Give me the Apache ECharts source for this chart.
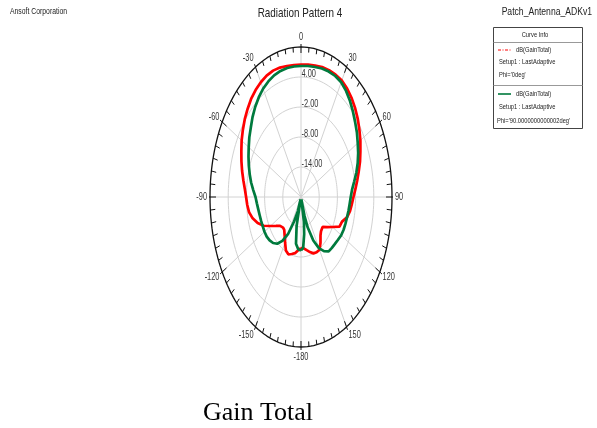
<!DOCTYPE html>
<html>
<head>
<meta charset="utf-8">
<script src="https://cdn.jsdelivr.net/npm/echarts@6/dist/echarts.min.js"></script>
<style>
html,body{margin:0;padding:0;background:#fff;}
#chart{width:597px;height:428px;}
</style>
</head>
<body>
<div id="chart"></div>
<script>
// ---------- data ----------
const title = 'Radiation Pattern 4';
const radialMin = -20, radialMax = 10;
const ringValues = [-14, -8, -2, 4];
const ringLabels = ['-14.00', '-8.00', '-2.00', '4.00'];
const angleTickValues = [0, 30, 60, 90, 120, 150, 180, -150, -120, -90, -60, -30];
const angleTickLabels = ['0', '30', '60', '90', '120', '150', '-180', '-150', '-120', '-90', '-60', '-30'];

// Phi = 0deg (red)
const phi0Angles = [-180,-175,-170,-165,-160,-155,-150,-145,-140,-136,-130,-125,-120,-115,-110,-105,-100,-95,-90,-85,-80,-75,-70,-65,-60,-55,-50,-45,-40,-35,-30,-25,-20,-15,-10,-5,0,5,10,15,20,25,30,35,40,45,50,55,60,65,70,75,80,85,90,95,100,105,110,115,120,125,130,133,136,140,145,150,155,160,165,170,175,180];
const phi0Gain   = [-9.8,-9.3,-8.6,-8.2,-7.8,-8.2,-9.5,-10.6,-11.4,-11.5,-11.0,-9.9,-8.4,-6.4,-4.8,-3.5,-2.6,-2.2,-1.9,-1.4,-0.7,0.1,0.9,1.7,2.6,3.4,4.2,4.9,5.6,6.1,6.5,6.8,6.9,6.8,6.6,6.5,6.5,6.6,6.7,6.9,7.0,7.0,6.9,6.5,5.9,5.2,4.4,3.5,2.6,1.6,0.7,-0.3,-1.2,-2.0,-2.7,-3.2,-3.6,-4.3,-5.6,-6.0,-8.0,-9.5,-10.7,-10.9,-10.5,-10.0,-8.8,-7.8,-7.8,-8.0,-8.6,-9.2,-9.7,-9.8];

// Phi = 90deg (green)
const phi90Angles = [-180,-175,-170,-166,-163,-160,-155,-150,-145,-140,-135,-130,-125,-120,-115,-110,-105,-100,-95,-90,-85,-80,-75,-70,-65,-60,-55,-50,-45,-40,-35,-30,-25,-20,-15,-10,-5,0,5,10,15,20,25,30,35,40,45,50,55,60,65,70,75,80,85,90,95,100,105,110,115,120,125,130,135,140,145,150,155,160,163,166,169,172,176,180];
const phi90Gain   = [-9.3,-9.5,-10.5,-14.0,-19.5,-17.0,-14.6,-11.4,-9.3,-7.8,-7.0,-6.5,-6.2,-6.1,-6.1,-6.0,-5.9,-5.7,-5.4,-5.0,-4.2,-3.3,-2.5,-1.7,-0.9,-0.1,0.8,1.6,2.6,3.5,4.3,5.0,5.5,5.9,6.1,6.2,6.2,6.2,6.3,6.4,6.6,6.7,6.7,6.5,5.9,5.1,4.2,3.3,2.5,1.6,0.8,-0.1,-1.1,-2.2,-3.1,-3.6,-3.9,-4.1,-4.3,-4.4,-4.5,-4.7,-5.1,-5.4,-5.6,-5.8,-6.8,-8.2,-10.4,-13.5,-16.0,-19.5,-15.0,-12.5,-9.8,-9.3];

// ---------- helpers ----------
const RX = 91, RY = 150; // pixel half-axes of the elliptical plot (tick lengths only)
function norm(db){ return Math.max(0,(db - radialMin) / (radialMax - radialMin)); }
function pt(angleDeg, r){ const a = angleDeg*Math.PI/180; return [r*Math.sin(a), r*Math.cos(a)]; }
function curve(angles, gains){ return angles.map((a,i)=>pt(a, norm(gains[i]))); }
function ellipse(r){ const out=[]; for(let a=0;a<=360;a+=2) out.push(pt(a,r)); return out; }

const gridRings = [];
ringValues.forEach(v=>{ gridRings.push(...ellipse(norm(v))); gridRings.push([null,null]); });
const spokes = [];
for(let a=0;a<360;a+=30){ spokes.push([0,0]); spokes.push(pt(a,1)); spokes.push([null,null]); }
const ticks = [];
for(let a=0;a<360;a+=5){
  const s=Math.sin(a*Math.PI/180), c=Math.cos(a*Math.PI/180);
  const pxLen = Math.sqrt((RX*s)**2+(RY*c)**2);
  const major = a%30===0;
  const inner = 1 - (major?6:5)/pxLen, outer = 1 + (major?3:0)/pxLen;
  ticks.push(pt(a,inner)); ticks.push(pt(a,outer)); ticks.push([null,null]);
}

const FONT = "'Liberation Sans',Arial,sans-serif";
const SQ = 0.74; // horizontal squeeze of the text, as in the reference

const chart = echarts.init(document.getElementById('chart'), null, {renderer:'canvas'});
chart.setOption({
  animation:false,
  backgroundColor:'#ffffff',
  grid:{left:210, top:47, width:182, height:300},
  xAxis:{type:'value', min:-1, max:1, show:false},
  yAxis:{type:'value', min:-1, max:1, show:false},
  series:[
    {type:'line', data:gridRings, showSymbol:false, silent:true, clip:false, connectNulls:false,
     lineStyle:{color:'#d2d2d2', width:1}},
    {type:'line', data:spokes, showSymbol:false, silent:true, clip:false, connectNulls:false,
     lineStyle:{color:'#d2d2d2', width:1}},
    {type:'line', data:ellipse(1), showSymbol:false, silent:true, clip:false,
     lineStyle:{color:'#111', width:1.3}},
    {type:'line', data:ticks, showSymbol:false, silent:true, clip:false, connectNulls:false,
     lineStyle:{color:'#111', width:1}},
    {type:'line', name:'Phi=0deg', data:curve(phi0Angles, phi0Gain), showSymbol:false, clip:false,
     lineStyle:{color:'#ff0000', width:2.7}},
    {type:'line', name:'Phi=90deg', data:curve(phi90Angles, phi90Gain), showSymbol:false, clip:false,
     lineStyle:{color:'#007a3d', width:2.7}}
  ]
});

// axis labels placed through the chart's own coordinate conversion
function toPx(p){ return chart.convertToPixel({gridIndex:0}, p); }
function txt(x, y, text, size, align, sx, fill){
  return {type:'text', x:x, y:y, scaleX:sx, silent:true,
    style:{text:text, fill:fill||'#333', font:size+'px '+FONT, textAlign:align||'left', textVerticalAlign:'middle'}};
}
const g = [];
angleTickValues.forEach((a,i)=>{
  const s = Math.sin(a*Math.PI/180), c = Math.cos(a*Math.PI/180);
  const p = toPx(pt(a,1));
  let align='center', ox=0;
  if (s > 0.1){ align='left'; ox = 1 + 2*s; }
  else if (s < -0.1){ align='right'; ox = -1 - 2*Math.abs(s); }
  const oy = -10*c;
  g.push(txt(p[0]+ox, p[1]+oy, angleTickLabels[i], 10, align, SQ));
});
ringValues.forEach((v,i)=>{
  const p = toPx(pt(0,norm(v)));
  g.push(txt(p[0]+0.5, p[1]-3, ringLabels[i], 10, 'left', SQ));
});
// header texts
g.push(txt(10, 12, 'Ansoft Corporation', 9, 'left', 0.76, '#222'));
g.push(txt(300, 13, title, 13, 'center', 0.76, '#222'));
g.push(txt(592, 12, 'Patch_Antenna_ADKv1', 10, 'right', 0.86, '#222'));
// curve info box
g.push({type:'rect', silent:true, shape:{x:493.5, y:27.5, width:89, height:101}, style:{fill:'#fff', stroke:'#444', lineWidth:1}});
g.push({type:'line', silent:true, shape:{x1:493.5, y1:42.5, x2:582.5, y2:42.5}, style:{stroke:'#999', lineWidth:1}});
g.push({type:'line', silent:true, shape:{x1:493.5, y1:85.5, x2:582.5, y2:85.5}, style:{stroke:'#999', lineWidth:1}});
g.push(txt(535, 35, 'Curve Info', 8, 'center', 0.72, '#222'));
g.push({type:'line', silent:true, shape:{x1:498, y1:50, x2:511, y2:50}, style:{stroke:'#ff0000', lineWidth:1.2, lineDash:[3,1.5,1,1.5]}});
g.push(txt(516, 50, 'dB(GainTotal)', 8, 'left', 0.72, '#222'));
g.push(txt(499, 62, 'Setup1 : LastAdaptive', 8, 'left', 0.72, '#222'));
g.push(txt(499, 75, "Phi='0deg'", 8, 'left', 0.72, '#222'));
g.push({type:'line', silent:true, shape:{x1:498, y1:94, x2:511, y2:94}, style:{stroke:'#007a3d', lineWidth:1.6}});
g.push(txt(516, 94, 'dB(GainTotal)', 8, 'left', 0.72, '#222'));
g.push(txt(499, 107, 'Setup1 : LastAdaptive', 8, 'left', 0.72, '#222'));
g.push(txt(497, 121, "Phi='90.0000000000002deg'", 8, 'left', 0.72, '#222'));
g.push({type:'text', x:258, y:413, silent:true, style:{text:'Gain Total', fill:'#000', font:"26px 'Liberation Serif','Times New Roman',serif", textAlign:'center', textVerticalAlign:'middle'}});
chart.setOption({graphic:g});
</script>
</body>
</html>
